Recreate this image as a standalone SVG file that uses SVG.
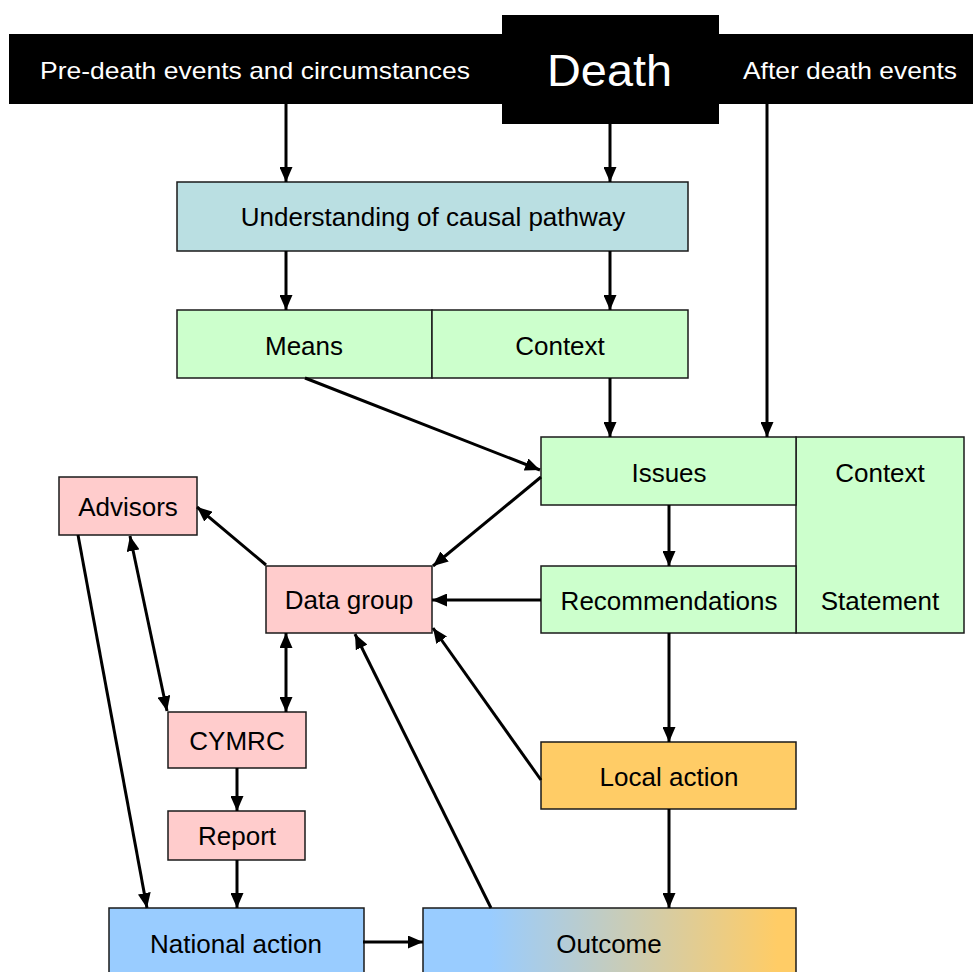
<svg xmlns="http://www.w3.org/2000/svg" width="973" height="972" viewBox="0 0 973 972">
<style>
.bx{stroke:#1a1a1a;stroke-width:1.5}
.pink{fill:#ffcccc}.green{fill:#ccffcc}.orange{fill:#ffcc66}.blue{fill:#99ccff}.lb{fill:#badfe2}
.t{font-family:"Liberation Sans",Arial,sans-serif;font-size:26px;fill:#000;text-anchor:middle}
.h{font-family:"Liberation Sans",Arial,sans-serif;font-size:24px;fill:#fff}
.c{stroke:#000;stroke-width:3;fill:none}
</style>
<defs>
<marker id="ah" viewBox="0 0 15 13" refX="15" refY="6.5" markerWidth="15" markerHeight="13" markerUnits="userSpaceOnUse" orient="auto-start-reverse"><path d="M0,0 L15,6.5 L0,13 z" fill="#000"/></marker>
<linearGradient id="og" x1="0" y1="0" x2="1" y2="0">
<stop offset="0.18" stop-color="#99ccff"/>
<stop offset="0.95" stop-color="#ffcc66"/>
</linearGradient>
</defs>
<rect width="973" height="972" fill="#fff"/>
<g id="header">
<rect x="9" y="34" width="964" height="70" fill="#000"/>
<rect x="502" y="15" width="217" height="109" fill="#000"/>
<text class="h" x="40" y="79" textLength="430" lengthAdjust="spacingAndGlyphs">Pre-death events and circumstances</text>
<text class="h" x="743" y="79" textLength="214" lengthAdjust="spacingAndGlyphs">After death events</text>
<text x="547" y="86" font-family="Liberation Sans,Arial,sans-serif" font-size="44" fill="#fff" textLength="125" lengthAdjust="spacingAndGlyphs">Death</text>
</g>
<g id="understanding"><rect class="bx lb" x="177" y="182" width="511" height="69"/><text class="t" x="433" y="226">Understanding of causal pathway</text></g>
<g id="means"><rect class="bx green" x="177" y="310" width="255" height="68"/><text class="t" x="304" y="355">Means</text></g>
<g id="context1"><rect class="bx green" x="432" y="310" width="256" height="68"/><text class="t" x="560" y="355">Context</text></g>
<g id="contextstatement"><rect class="bx green" x="796" y="437" width="168" height="196"/><text class="t" x="880" y="482">Context</text><text class="t" x="880" y="610">Statement</text></g>
<g id="issues"><rect class="bx green" x="541" y="437" width="255" height="68"/><text class="t" x="669" y="482">Issues</text></g>
<g id="recommendations"><rect class="bx green" x="541" y="566" width="255" height="67"/><text class="t" x="669" y="610">Recommendations</text></g>
<g id="advisors"><rect class="bx pink" x="59" y="477" width="138" height="58"/><text class="t" x="128" y="516">Advisors</text></g>
<g id="datagroup"><rect class="bx pink" x="266" y="566" width="166" height="67"/><text class="t" x="349" y="609">Data group</text></g>
<g id="cymrc"><rect class="bx pink" x="168" y="712" width="138" height="56"/><text class="t" x="237" y="750">CYMRC</text></g>
<g id="report"><rect class="bx pink" x="168" y="811" width="137" height="49"/><text class="t" x="237" y="845">Report</text></g>
<g id="localaction"><rect class="bx orange" x="541" y="742" width="255" height="67"/><text class="t" x="669" y="786">Local action</text></g>
<g id="nationalaction"><rect class="bx blue" x="109" y="908" width="255" height="80"/><text class="t" x="236" y="953">National action</text></g>
<g id="outcome"><rect class="bx" fill="url(#og)" x="423" y="908" width="373" height="80"/><text class="t" x="609" y="953">Outcome</text></g>
<g id="connectors" class="c">
<line x1="286" y1="104" x2="286" y2="182" marker-end="url(#ah)"/>
<line x1="610" y1="124" x2="610" y2="182" marker-end="url(#ah)"/>
<line x1="767" y1="104" x2="767" y2="437" marker-end="url(#ah)"/>
<line x1="286" y1="251" x2="286" y2="310" marker-end="url(#ah)"/>
<line x1="610" y1="251" x2="610" y2="310" marker-end="url(#ah)"/>
<line x1="305" y1="378" x2="540" y2="470" marker-end="url(#ah)"/>
<line x1="610" y1="378" x2="610" y2="437" marker-end="url(#ah)"/>
<line x1="541" y1="477" x2="433" y2="566" marker-end="url(#ah)"/>
<line x1="669" y1="505" x2="669" y2="566" marker-end="url(#ah)"/>
<line x1="541" y1="600" x2="432" y2="600" marker-end="url(#ah)"/>
<line x1="669" y1="633" x2="669" y2="742" marker-end="url(#ah)"/>
<line x1="541" y1="780" x2="433" y2="628" marker-end="url(#ah)"/>
<line x1="266" y1="565" x2="197" y2="507" marker-end="url(#ah)"/>
<line x1="130" y1="536" x2="167" y2="711" marker-start="url(#ah)" marker-end="url(#ah)"/>
<line x1="286" y1="633" x2="286" y2="712" marker-start="url(#ah)" marker-end="url(#ah)"/>
<line x1="78" y1="535" x2="147" y2="908" marker-end="url(#ah)"/>
<line x1="237" y1="768" x2="237" y2="811" marker-end="url(#ah)"/>
<line x1="237" y1="860" x2="237" y2="908" marker-end="url(#ah)"/>
<line x1="363" y1="942" x2="423" y2="942" marker-end="url(#ah)"/>
<line x1="491" y1="908" x2="355" y2="634" marker-end="url(#ah)"/>
<line x1="669" y1="809" x2="669" y2="908" marker-end="url(#ah)"/>
</g>
</svg>
